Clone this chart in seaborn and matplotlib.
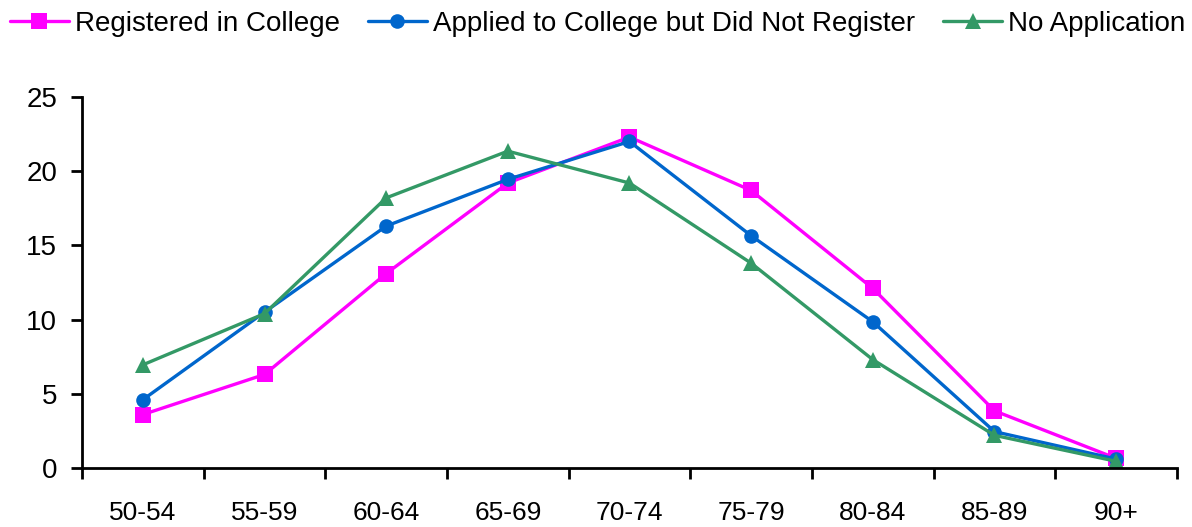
import matplotlib
matplotlib.use("Agg")
import matplotlib.pyplot as plt
import seaborn as sns
import pandas as pd
import numpy as np

categories = ["50-54", "55-59", "60-64", "65-69", "70-74", "75-79", "80-84", "85-89", "90+"]
registered = [3.6, 6.3, 13.1, 19.2, 22.3, 18.7, 12.1, 3.85, 0.65]
applied = [4.6, 10.5, 16.3, 19.45, 22.0, 15.65, 9.85, 2.45, 0.6]
no_application = [6.95, 10.4, 18.2, 21.35, 19.2, 13.8, 7.3, 2.2, 0.45]
series_names = ["Registered in College", "Applied to College but Did Not Register", "No Application"]
yticks = [0, 5, 10, 15, 20, 25]

sns.set_theme(style="white")
plt.rcParams['font.family'] = ['Liberation Sans', 'DejaVu Sans']
plt.rcParams['text.color'] = 'black'
plt.rcParams['xtick.color'] = 'black'
plt.rcParams['ytick.color'] = 'black'

fig = plt.figure(figsize=(11.92, 5.27), dpi=100)
ax = fig.add_axes([0.0688, 0.112, 0.9186, 0.704])

styles = [
    (registered, "#FF00FF", "s", 12),
    (applied, "#0066CC", "o", 10.5),
    (no_application, "#339966", "^", 11),
]
x = np.arange(len(categories))
for name, (vals, color, marker, ms) in zip(series_names, styles):
    df = pd.DataFrame({"x": x, "y": vals})
    sns.lineplot(data=df, x="x", y="y", ax=ax, color=color, marker=marker,
                 markersize=ms, markeredgewidth=0, linewidth=2.4, label=name)

ax.set_xlim(-0.5, len(categories) - 0.5)
ax.set_ylim(0, 25)
ax.set_yticks(yticks)
ax.set_yticklabels([str(t) for t in yticks])
ax.set_xticks(x)
ax.set_xticklabels(categories)
ax.set_xticks(np.arange(-0.5, len(categories), 1.0), minor=True)
ax.tick_params(axis="x", which="major", length=0, pad=24, labelsize=19, labelcolor="black")
ax.tick_params(axis="x", which="minor", length=8, width=2, color="black", direction="out", bottom=True)
ax.tick_params(axis="y", which="major", length=8, width=2, color="black", direction="out", left=True,
               labelsize=20, pad=10, labelcolor="black")
ax.set_xlabel("")
ax.set_ylabel("")
for s in ["top", "right"]:
    ax.spines[s].set_visible(False)
for s in ["left", "bottom"]:
    ax.spines[s].set_color("black")
    ax.spines[s].set_linewidth(2)

handles, labels = ax.get_legend_handles_labels()
ax.get_legend().remove()
fig.legend(handles, labels, loc="center left", bbox_to_anchor=(0.008, 0.955), ncol=3,
           frameon=False, fontsize=20, handlelength=2.15, handletextpad=0.2,
           columnspacing=1.0, borderaxespad=0, borderpad=0, labelcolor="black")

fig.savefig("out.png", dpi=100)
